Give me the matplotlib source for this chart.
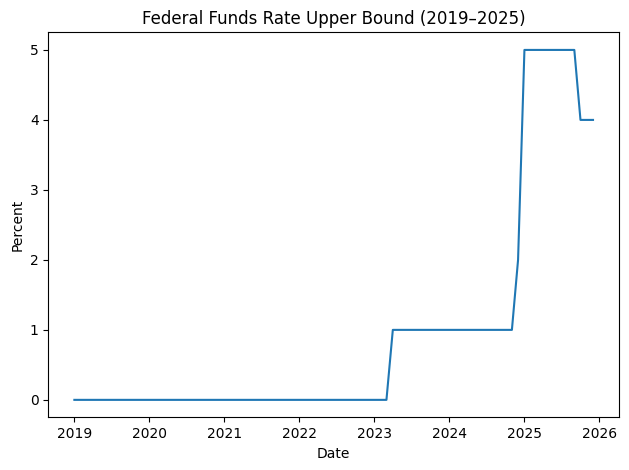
import pandas as pd
import matplotlib
matplotlib.use("Agg")
import matplotlib.pyplot as plt

# monthly observations, first of month
start_month = "2019-01-01"
end_month = "2025-12-01"

# upper bound in percent, one value per month
rate_upper = [
    0, 0, 0, 0, 0, 0, 0, 0, 0, 0, 0, 0,   # 2019
    0, 0, 0, 0, 0, 0, 0, 0, 0, 0, 0, 0,   # 2020
    0, 0, 0, 0, 0, 0, 0, 0, 0, 0, 0, 0,   # 2021
    0, 0, 0, 0, 0, 0, 0, 0, 0, 0, 0, 0,   # 2022
    0, 0, 0, 1, 1, 1, 1, 1, 1, 1, 1, 1,   # 2023
    1, 1, 1, 1, 1, 1, 1, 1, 1, 1, 1, 2,   # 2024
    5, 5, 5, 5, 5, 5, 5, 5, 5, 4, 4, 4,   # 2025
]

dates = pd.date_range(start_month, end_month, freq="MS")

fig, ax = plt.subplots(figsize=(6.29, 4.70), dpi=100)
ax.plot(dates, rate_upper, color="#1f77b4")
ax.set_title("Federal Funds Rate Upper Bound (2019\u20132025)")
ax.set_xlabel("Date")
ax.set_ylabel("Percent")
fig.subplots_adjust(left=0.077, right=0.984, top=0.931, bottom=0.112)
fig.savefig("out.png", dpi=100)
